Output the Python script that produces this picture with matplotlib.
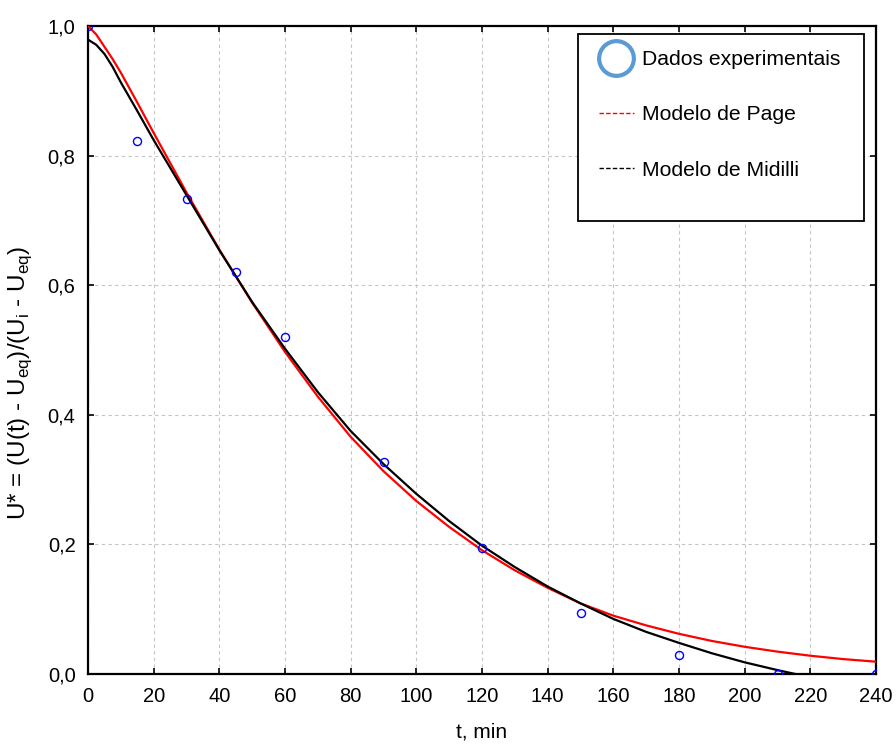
import matplotlib
matplotlib.use('Agg')
import matplotlib.pyplot as plt
from matplotlib.lines import Line2D
from matplotlib.patches import Rectangle
from matplotlib.ticker import FuncFormatter

# Experimental points
t_exp = [0, 15, 30, 45, 60, 90, 120, 150, 180, 210, 240]
u_exp = [1.0, 0.822, 0.733, 0.620, 0.520, 0.327, 0.194, 0.094, 0.029, 0.0, 0.0]

# Fitted curves
t_fit = [0, 2.5, 5, 7.5, 10, 15, 20, 30, 40, 50, 60, 70, 80, 90, 100, 110, 120,
         130, 140, 150, 160, 170, 180, 190, 200, 210, 220, 230, 240]
u_page = [1.0, 0.987, 0.968, 0.949, 0.928, 0.882, 0.835, 0.743, 0.655, 0.573,
          0.497, 0.428, 0.366, 0.313, 0.267, 0.227, 0.191, 0.160, 0.133, 0.109,
          0.090, 0.075, 0.062, 0.051, 0.042, 0.0345, 0.0282, 0.023, 0.019]
u_midilli = [0.979, 0.971, 0.957, 0.937, 0.913, 0.869, 0.824, 0.739, 0.654, 0.574,
             0.502, 0.435, 0.375, 0.324, 0.278, 0.236, 0.198, 0.165, 0.135, 0.109,
             0.085, 0.065, 0.048, 0.032, 0.018, 0.006, -0.005, -0.015, -0.024]

labels = ['Dados experimentais', 'Modelo de Page', 'Modelo de Midilli']

plt.rcParams['font.family'] = ['Liberation Sans', 'DejaVu Sans']
plt.rcParams['mathtext.fontset'] = 'custom'
plt.rcParams['mathtext.rm'] = 'Liberation Sans'

fig = plt.figure(figsize=(8.96, 7.53), dpi=100)
ax = fig.add_axes([88 / 896, 1 - 674 / 753, 788 / 896, 648 / 753])

ax.grid(True, color='#c4c4c4', linestyle=(0, (3, 3)), linewidth=0.8)
ax.set_axisbelow(True)

ax.plot(t_fit, u_page, color='#ff0000', lw=1.6, zorder=3)
ax.plot(t_fit, u_midilli, color='black', lw=1.6, zorder=3)
ax.plot(t_exp, u_exp, 'o', mfc='none', mec='#0000ff', ms=5.8, mew=1.0, zorder=4)

ax.set_xlim(0, 240)
ax.set_ylim(0, 1.0)
ax.set_xticks(range(0, 241, 20))
ax.set_yticks([0, 0.2, 0.4, 0.6, 0.8, 1.0])
ax.yaxis.set_major_formatter(FuncFormatter(lambda v, p: f'{v:.1f}'.replace('.', ',')))
ax.tick_params(direction='in', top=True, right=True, length=4, width=1.2,
               labelsize=14.5, pad=9)
for s in ax.spines.values():
    s.set_linewidth(1.6)

ax.set_xlabel('t, min', fontsize=15)
ax.xaxis.set_label_coords(0.5, -0.075)
ax.set_ylabel(r'U* = (U(t) - U$_{\mathregular{eq}}$)/(U$_{\mathregular{i}}$ - U$_{\mathregular{eq}}$)',
              fontsize=17.5)
ax.yaxis.set_label_coords(-0.068, 0.45)

# legend box
ax.add_patch(Rectangle((0.622, 0.699), 0.363, 0.289, transform=ax.transAxes,
                       facecolor='white', edgecolor='black', lw=1.3, zorder=5))
handles = [
    Line2D([], [], ls='none', marker='o', mfc='none', mec='#5b9bd5', ms=25, mew=3.0),
    Line2D([], [], color='#ff0000', lw=1.0, ls=(0, (3.2, 1.6))),
    Line2D([], [], color='black', lw=1.0, ls=(0, (3.2, 1.6))),
]
leg = ax.legend(handles, labels, loc='upper left', bbox_to_anchor=(0.6485, 0.963),
                frameon=False, fontsize=15.2, borderpad=0, borderaxespad=0,
                handlelength=1.65, handletextpad=0.38, labelspacing=1.72)
leg.set_zorder(6)

fig.savefig('out.png', dpi=100)
